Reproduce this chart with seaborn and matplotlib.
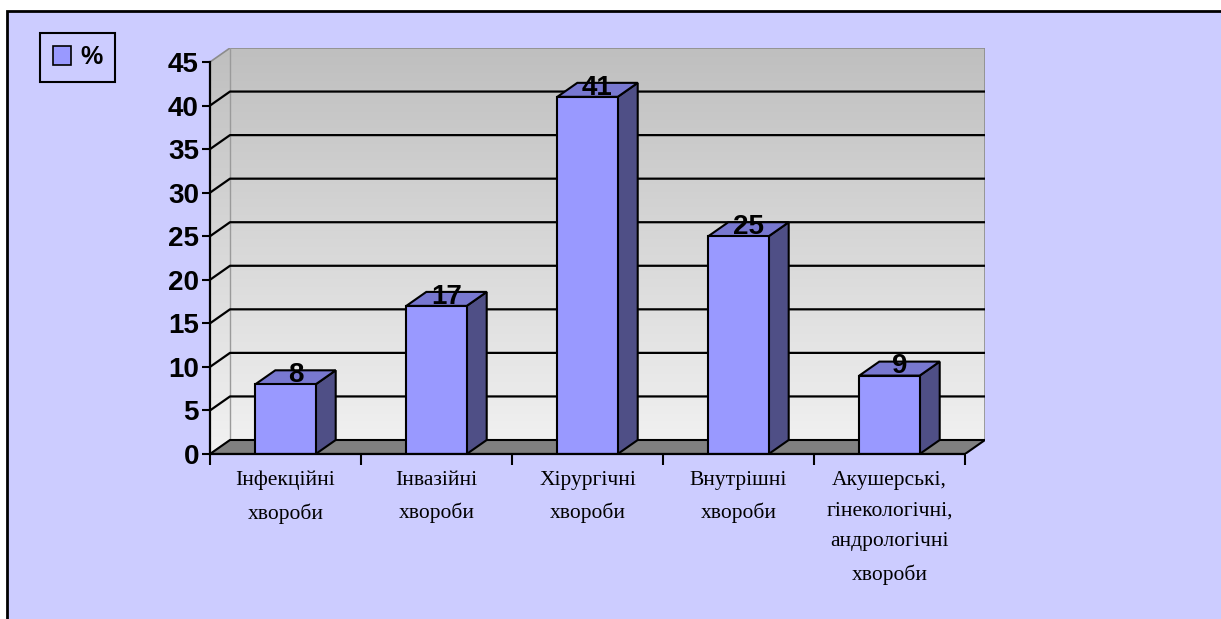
import numpy as np
import pandas as pd
import matplotlib
matplotlib.use("Agg")
import matplotlib.pyplot as plt
from matplotlib.patches import Polygon, Rectangle, Patch
import seaborn as sns

categories = ["Інфекційні\nхвороби", "Інвазійні\nхвороби", "Хірургічні\nхвороби",
              "Внутрішні\nхвороби", "Акушерські,\nгінекологічні,\nандрологічні\nхвороби"]
values = [8, 17, 41, 25, 9]
yticks = [0, 5, 10, 15, 20, 25, 30, 35, 40, 45]
series_name = "%"

sns.set_theme(style="white")
plt.rcParams['font.family'] = ['Liberation Sans', 'DejaVu Sans']
plt.rcParams['text.color'] = 'black'
plt.rcParams['xtick.color'] = 'black'
plt.rcParams['ytick.color'] = 'black'
plt.rcParams['axes.labelcolor'] = 'black'

W, H = 1221, 619
fig = plt.figure(figsize=(W / 100, H / 100), dpi=100, facecolor="white")

# outer chart frame
fig.patches.append(Rectangle((7 / W, -0.1), 1.2, 1 - 11 / H + 0.1, transform=fig.transFigure,
                             facecolor="#CCCCFF", edgecolor="black", linewidth=2, zorder=-10))

# axes box in pixels: left 210, right 985, bottom 454, top 48
ax = fig.add_axes([210 / W, 1 - 454 / H, (985 - 210) / W, (454 - 48) / H])
ax.set_facecolor("none")
ax.set_zorder(1)

px_per_cat = 151.0
px_per_unit = 8.71
dx = 20 / px_per_cat
dy = 14 / px_per_unit
ymax = 45
n = len(categories)

df = pd.DataFrame({"cat": categories, "val": values})
sns.barplot(data=df, x="cat", y="val", ax=ax, color="#9999FF", width=0.4,
            edgecolor="black", linewidth=1.5, saturation=1, zorder=5)

# walls with gradient
xl, xr = -0.5, n - 0.5 + dx
wall_poly = [(xl, 0), (xl, ymax), (xl + dx, ymax + dy), (xr, ymax + dy), (xr, dy), (xl + dx, dy)]
grad = np.linspace(0, 1, 256).reshape(-1, 1)
cmap = matplotlib.colors.LinearSegmentedColormap.from_list("w", ["#F2F2F2", "#BFBFBF"])
im = ax.imshow(grad, extent=[xl, xr, 0, ymax + dy], origin="lower", aspect="auto",
               cmap=cmap, zorder=0, interpolation="bilinear")
clip = Polygon(wall_poly, closed=True, transform=ax.transData, facecolor="none", edgecolor="none")
ax.add_patch(clip)
im.set_clip_path(clip)
ax.set_xlim(-0.5, n - 0.5 + dx)
ax.set_ylim(0, ymax + dy)
# wall outline
ax.add_patch(Polygon(wall_poly, closed=True, facecolor="none", edgecolor="#8C8C8C",
                     linewidth=1.2, zorder=1))
ax.plot([xl + dx, xl + dx], [dy, ymax + dy], color="#9A9A9A", lw=1, zorder=1)

# gridlines (back wall + side wall)
for t in yticks[1:-1]:
    ax.plot([xl, xl + dx, xr], [t, t + dy, t + dy], color="black", lw=1.6, zorder=2)

# floor
floor = [(xl, 0), (n - 0.5, 0), (xr, dy), (xl + dx, dy)]
ax.add_patch(Polygon(floor, closed=True, facecolor="#808080", edgecolor="black",
                     linewidth=1.5, zorder=3))

# 3D faces for bars
bars = [p for p in ax.patches if isinstance(p, Rectangle) and p.get_zorder() == 5]
for p in bars:
    x0, w, h = p.get_x(), p.get_width(), p.get_height()
    side = [(x0 + w, 0), (x0 + w + dx, dy), (x0 + w + dx, h + dy), (x0 + w, h)]
    top = [(x0, h), (x0 + dx, h + dy), (x0 + w + dx, h + dy), (x0 + w, h)]
    ax.add_patch(Polygon(side, closed=True, facecolor="#4F4F86", edgecolor="black", lw=1.5, zorder=4.9))
    ax.add_patch(Polygon(top, closed=True, facecolor="#7878D0", edgecolor="black", lw=1.5, zorder=4.9))
    ax.text(x0 + w / 2 + dx / 2, h + 0.25, f"{h:g}", ha="center", va="baseline",
            fontsize=20, fontweight="bold", color="black", zorder=6)

# axes styling
for s in ["top", "right", "bottom"]:
    ax.spines[s].set_visible(False)
ax.spines["left"].set_bounds(0, ymax)
ax.spines["left"].set_color("black")
ax.spines["left"].set_linewidth(1.6)
ax.spines["left"].set_zorder(7)
ax.set_yticks(yticks)
ax.set_yticklabels([str(t) for t in yticks])
ax.tick_params(axis="y", direction="out", length=6, width=1.5, color="black", left=True,
               labelsize=20, pad=2, labelcolor="black")
for lab in ax.get_yticklabels():
    lab.set_fontweight("bold")

ax.plot([xl, n - 0.5], [0, 0], color="black", lw=1.6, zorder=7, clip_on=False)
ax.set_xticks(range(n))
ax.set_xticklabels(categories, family=["Liberation Serif", "DejaVu Serif"], fontsize=15.5,
                   linespacing=1.85, va="top", color="black")
ax.tick_params(axis="x", length=0, pad=12)
ax.set_xticks(np.arange(-0.5, n, 1.0), minor=True)
ax.tick_params(axis="x", which="minor", direction="out", length=8, width=1.5, color="black", bottom=True)
ax.set_xlabel("")
ax.set_ylabel("")

leg = fig.legend(handles=[Patch(facecolor="#9999FF", edgecolor="black", linewidth=1.2)],
                 labels=[series_name], loc="upper left",
                 bbox_to_anchor=(40 / W, 1 - 33 / H), frameon=True, fancybox=False,
                 edgecolor="black", facecolor="#CCCCFF", framealpha=1,
                 prop={"weight": "bold", "size": 18}, handlelength=0.72, handleheight=0.8,
                 handletextpad=0.4, borderpad=0.5, borderaxespad=0)
leg.get_frame().set_linewidth(1.5)
for t in leg.get_texts():
    t.set_color("black")

fig.savefig("out.png", dpi=100, facecolor=fig.get_facecolor())
